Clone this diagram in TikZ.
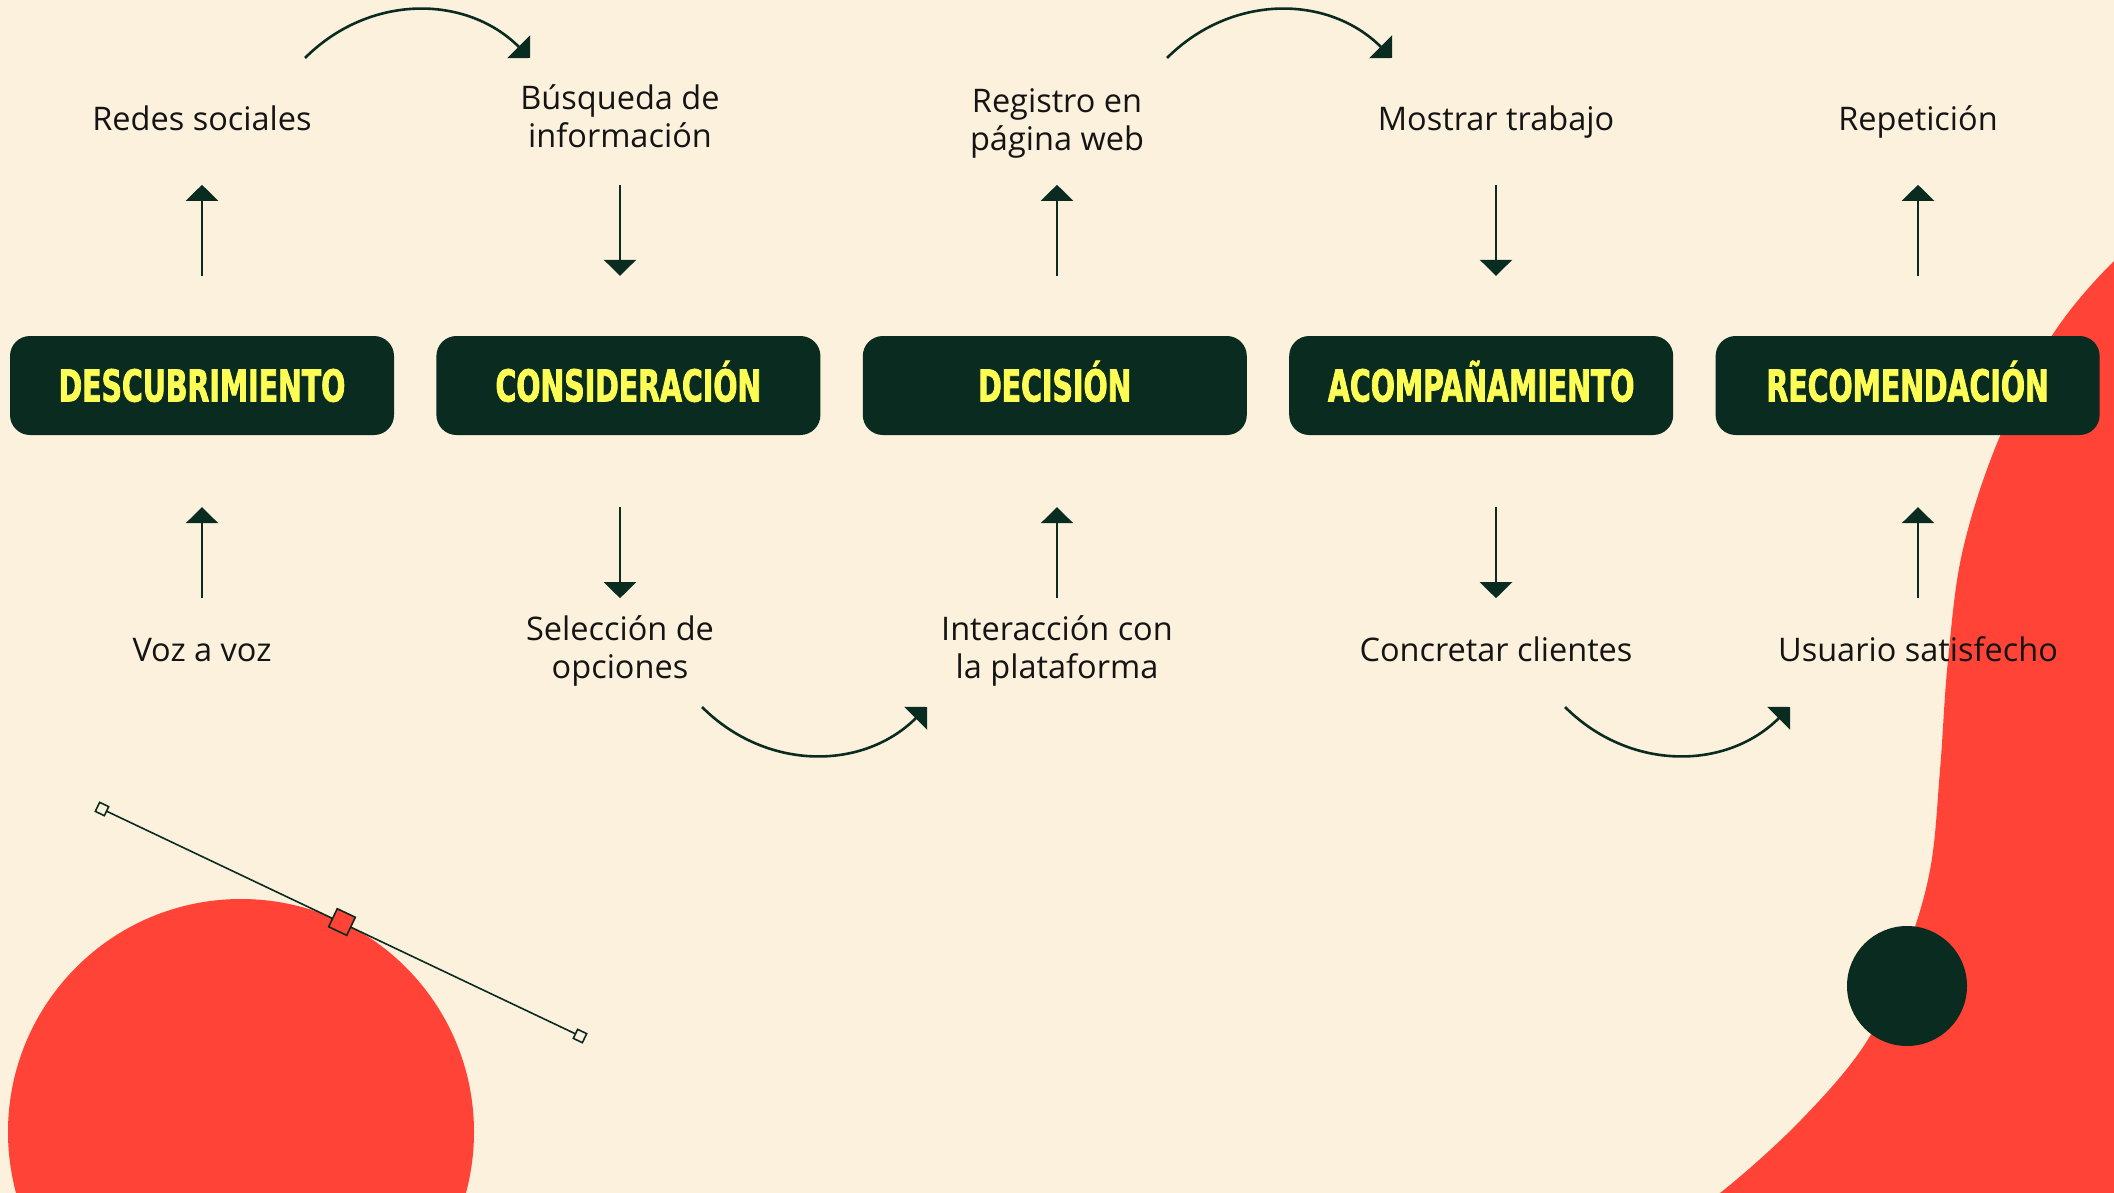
\documentclass[tikz,border=0pt]{standalone}
\usepackage{fontspec}
\setmainfont{Open Sans}
\newfontfamily\stagefont{DejaVu Sans Bold}[FakeStretch=0.645, FakeBold=1.8]
\usetikzlibrary{arrows.meta, positioning}

\definecolor{cream}{HTML}{FCF1DC}
\definecolor{dark}{HTML}{0A2B20}
\definecolor{coral}{HTML}{FF4336}
\definecolor{lemon}{HTML}{FDFD55}
\definecolor{ink}{HTML}{141414}

\begin{document}
\begin{tikzpicture}[x=1pt, y=-1pt,
		box/.style={fill=dark, rounded corners=20pt, minimum width=384pt, minimum height=99pt, inner sep=0pt, text height=32pt, text depth=0pt, text=lemon, font=\stagefont\fontsize{44}{44}\selectfont},
		txt/.style={anchor=base, text=ink, align=center, font=\fontsize{32.5}{38}\selectfont},
		arr/.style={draw=dark, line width=2.6pt, -{Triangle[width=32pt, length=16pt]}},
		handle/.style={draw=dark, line width=1.6pt, fill=cream, minimum size=10pt, inner sep=0pt, rotate=-25.4}]
		% Canvas and background shapes
		\useasboundingbox (0,0) rectangle (2114,1193);
		\clip (0,0) rectangle (2114,1193);
		\fill[cream] (0,0) rectangle (2114,1193);
		\fill[coral] plot[smooth, tension=0.6] coordinates {(2150,238) (2114,261) (2053,334) (2000,436) (1963,549) (1948,660) (1940,770) (1930,870) (1905,955) (1867,1041) (1800,1121) (1720,1193) (1680,1215)} -- (2150,1215) -- cycle;
		\fill[coral] (241,1132) circle[radius=233pt];
		\fill[dark] (1907,986) circle[radius=60pt];
		
		% Define nodes (stages)
		\node[box] (D1) at (202,385.5) {DESCUBRIMIENTO};
		\node[box, right=42pt of D1] (D2) {CONSIDERACIÓN};
		\node[box, right=42pt of D2] (D3) {DECISIÓN};
		\node[box, right=42pt of D3] (D4) {ACOMPAÑAMIENTO};
		\node[box, right=42pt of D4] (D5) {RECOMENDACIÓN};
		
		% Define nodes (top and bottom labels, placed at their last baselines)
		\node[txt] (T1) at (202,131) {Redes sociales};
		\node[txt] (T2) at (620,148) {Búsqueda de\\información};
		\node[txt] (T3) at (1057,151) {Registro en\\página web};
		\node[txt] (T4) at (1496,131) {Mostrar trabajo};
		\node[txt] (T5) at (1918,131) {Repetición};
		
		\node[txt] (B1) at (202,661) {Voz a voz};
		\node[txt] (B2) at (620,678) {Selección de\\opciones};
		\node[txt] (B3) at (1057,678) {Interacción con\\la plataforma};
		\node[txt] (B4) at (1496,661) {Concretar clientes};
		\node[txt] (B5) at (1918,661) {Usuario satisfecho};
		
		% Draw connections
		\draw[arr] ([yshift=60pt]T1 |- D1.north) -- ([yshift=151pt]T1 |- D1.north);
		\draw[arr] ([yshift=151pt]T2 |- D2.north) -- ([yshift=60pt]T2 |- D2.north);
		\draw[arr] ([yshift=60pt]T3 |- D3.north) -- ([yshift=151pt]T3 |- D3.north);
		\draw[arr] ([yshift=151pt]T4 |- D4.north) -- ([yshift=60pt]T4 |- D4.north);
		\draw[arr] ([yshift=60pt]T5 |- D5.north) -- ([yshift=151pt]T5 |- D5.north);
		
		\draw[arr] ([yshift=-163pt]B1 |- D1.south) -- ([yshift=-72pt]B1 |- D1.south);
		\draw[arr] ([yshift=-72pt]B2 |- D2.south) -- ([yshift=-163pt]B2 |- D2.south);
		\draw[arr] ([yshift=-163pt]B3 |- D3.south) -- ([yshift=-72pt]B3 |- D3.south);
		\draw[arr] ([yshift=-72pt]B4 |- D4.south) -- ([yshift=-163pt]B4 |- D4.south);
		\draw[arr] ([yshift=-163pt]B5 |- D5.south) -- ([yshift=-72pt]B5 |- D5.south);
		
		% Curved hops between labels
		\coordinate (C1a) at (305,58);
		\coordinate (C1b) at (530,58);
		\coordinate (C2a) at (1167,58);
		\coordinate (C2b) at (1392,58);
		\coordinate (C3a) at (702,707);
		\coordinate (C3b) at (927,707);
		\coordinate (C4a) at (1565,707);
		\coordinate (C4b) at (1790,707);
		\draw[arr] (C1a) .. controls +(64,-64) and +(-64,-64) .. (C1b);
		\draw[arr] (C2a) .. controls +(64,-64) and +(-64,-64) .. (C2b);
		\draw[arr] (C3a) .. controls +(64,64) and +(-64,64) .. (C3b);
		\draw[arr] (C4a) .. controls +(64,64) and +(-64,64) .. (C4b);
		
		% Decorative handle line
		\coordinate (H1) at (102,809);
		\coordinate (H2) at (580,1036);
		\draw[dark, line width=1.6pt] (H1) -- (H2);
		\node[handle] (Ha) at (H1) {};
		\node[handle] (Hb) at (H2) {};
		\node[handle, fill=coral, minimum size=20pt] (Hm) at (342,922) {};
	\end{tikzpicture}
\end{document}
